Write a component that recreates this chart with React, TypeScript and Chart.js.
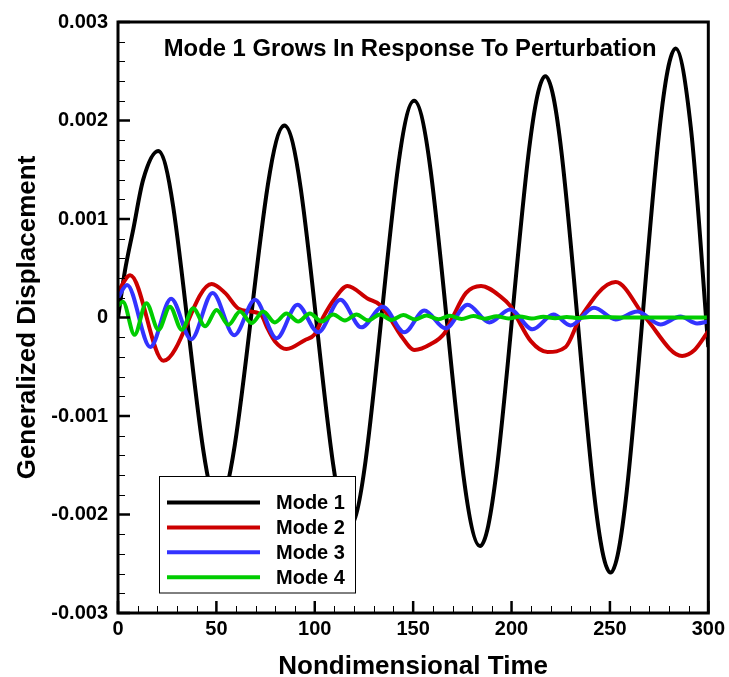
import React, { useEffect, useRef } from "react";
import { Chart, registerables } from "chart.js";

Chart.register(...registerables);

const chartTitle = "Mode 1 Grows In Response To Perturbation";
const xAxisTitle = "Nondimensional Time";
const yAxisTitle = "Generalized Displacement";
const seriesLabels = ["Mode 1", "Mode 2", "Mode 3", "Mode 4"];
const seriesColors = ["#000000", "#cc0000", "#3333ff", "#00cc00"];

const xTickValues = [0, 50, 100, 150, 200, 250, 300];
const xTickLabels = ["0", "50", "100", "150", "200", "250", "300"];
const yTickValues = [-0.003, -0.002, -0.001, 0, 0.001, 0.002, 0.003];
const yTickLabels = ["-0.003", "-0.002", "-0.001", "0", "0.001", "0.002", "0.003"];
const xMinorPerMajor = 5;
const yMinorPerMajor = 5;

// Mode 1 (black)
const mode1T = [0, 3.5, 7.8, 12.8, 20.4, 50.9, 84.6, 117.6, 150.5, 184, 217.2, 250.3, 283.4, 291.1, 300];
const mode1V = [0, 0.00047, 0.0009, 0.0014, 0.00169, -0.0019, 0.00195, -0.00213, 0.0022, -0.00232, 0.00245, -0.00259, 0.00273, 0.00193, -0.0003];

// Mode 2 (red)
const mode2T = [0, 6.2, 23.1, 47.6, 54.4, 61.2, 67.9, 73, 75.5, 79.7, 85.6, 94.9, 100, 104.2, 110.1, 116.6, 127, 133, 138, 144, 150.7, 159, 165.9, 170, 176.9, 184.5, 194.6, 199.7, 202.7, 209.8, 218.3, 227.5, 235, 252.9, 268, 286.7, 293, 300];
const mode2V = [0.00026, 0.00043, -0.00044, 0.00034, 0.00025, 0.00009, 0.00006, 0.00002, -0.00009, -0.00024, -0.00032, -0.00023, -0.00017, 0, 0.00019, 0.00032, 0.00019, 0.00013, 0, -0.00019, -0.00033, -0.00027, -0.00016, 0, 0.00025, 0.00032, 0.00021, 0.00011, 0, -0.00024, -0.00035, -0.0003, 0, 0.00036, 0, -0.00039, -0.00033, -0.00014];

// Mode 3 (blue)
const mode3T = [0, 4.6, 16.4, 27, 37.2, 48.1, 59.1, 69.6, 80.6, 91.2, 101.7, 113, 123.7, 134.6, 145.5, 155.7, 166.4, 177.7, 188.7, 199.3, 210.7, 221.3, 230, 241.9, 252.9, 263.9, 275.7, 285.8, 294.3, 300];
const mode3V = [0.0002, 0.00033, -0.0003, 0.00019, -0.00022, 0.00025, -0.00018, 0.00018, -0.00021, 0.00013, -0.00015, 0.00018, -0.0001, 0.00011, -0.00015, 0.00007, -0.00011, 0.00013, -0.00005, 0.00008, -0.00012, 0.00003, -0.00008, 0.0001, -0.00002, 0.00006, -0.00007, 0.00001, -0.00006, -0.00004];

// Mode 4 (green)
const mode4T = [0, 2.5, 8.4, 14.4, 20.6, 26.4, 32.4, 38.2, 44.3, 50.1, 56.1, 62, 67.9, 73.8, 79.7, 85.6, 91.6, 97.5, 103.5, 109.4, 115.3, 121.2, 127.2, 133.1, 139, 145, 150.9, 156.8, 162.8, 168.7, 174.6, 180.6, 186.5, 192.5, 198.4, 204.3, 210.3, 216.2, 222.1, 228.1, 234, 240, 260, 280, 300];
const mode4V = [0.00012, 0.00016, -0.000175, 0.000145, -0.000125, 0.00011, -0.000125, 0.000094, -0.00009, 0.000077, -0.000074, 0.00006, -0.000057, 0.00006, -0.00005, 0.00004, -0.00004, 0.00004, -0.00004, 0.00003, -0.00003, 0.00003, -0.00003, 0.00003, -0.000025, 0.000025, -0.00002, 0.00002, -0.000018, 0.000018, -0.000015, 0.000015, -0.000012, 0.000012, -0.00001, 0.00001, -0.00001, 0.000008, -0.000008, 0.000006, -0.000006, 0.000004, 0, 0, 0];

const FAMILY = "'Liberation Sans', Arial, Helvetica, sans-serif";

const toXY = (t: number[], v: number[]) => t.map((x, i) => ({ x, y: v[i] }));

const framePlugin = {
  id: "frameTicks",
  afterDatasetsDraw(chart: any) {
    const { ctx, chartArea: ca, scales } = chart;
    const xs = scales.x;
    const ys = scales.y;
    ctx.save();
    ctx.strokeStyle = "#000";
    // minor ticks (inward)
    ctx.lineWidth = 1;
    for (let i = 0; i < xTickValues.length - 1; i++) {
      const a = xTickValues[i], b = xTickValues[i + 1];
      for (let k = 1; k < xMinorPerMajor; k++) {
        const px = Math.round(xs.getPixelForValue(a + ((b - a) * k) / xMinorPerMajor)) + 0.5;
        ctx.beginPath();
        ctx.moveTo(px, ca.bottom);
        ctx.lineTo(px, ca.bottom - 7);
        ctx.stroke();
      }
    }
    for (let i = 0; i < yTickValues.length - 1; i++) {
      const a = yTickValues[i], b = yTickValues[i + 1];
      for (let k = 1; k < yMinorPerMajor; k++) {
        const py = Math.round(ys.getPixelForValue(a + ((b - a) * k) / yMinorPerMajor)) + 0.5;
        ctx.beginPath();
        ctx.moveTo(ca.left, py);
        ctx.lineTo(ca.left + 7, py);
        ctx.stroke();
      }
    }
    // major ticks (inward)
    ctx.lineWidth = 2.5;
    xTickValues.forEach((v) => {
      const px = xs.getPixelForValue(v);
      ctx.beginPath();
      ctx.moveTo(px, ca.bottom);
      ctx.lineTo(px, ca.bottom - 12);
      ctx.stroke();
    });
    yTickValues.forEach((v) => {
      const py = ys.getPixelForValue(v);
      ctx.beginPath();
      ctx.moveTo(ca.left, py);
      ctx.lineTo(ca.left + 12, py);
      ctx.stroke();
    });
    // frame
    ctx.lineWidth = 3;
    ctx.strokeRect(ca.left, ca.top, ca.right - ca.left, ca.bottom - ca.top);

    // legend
    const lx = ca.left + 41.5, ly = ca.top + 454.5, lw = 196, lh = 116.5;
    ctx.fillStyle = "#fff";
    ctx.fillRect(lx, ly, lw, lh);
    ctx.lineWidth = 1;
    ctx.strokeStyle = "#000";
    ctx.strokeRect(lx, ly, lw, lh);
    ctx.font = `bold 20px ${FAMILY}`;
    ctx.textAlign = "left";
    ctx.textBaseline = "middle";
    chart.data.datasets.forEach((ds: any, i: number) => {
      const y = ly + 26 + i * 24.9;
      ctx.strokeStyle = ds.borderColor;
      ctx.lineWidth = 4;
      ctx.beginPath();
      ctx.moveTo(lx + 7.5, y);
      ctx.lineTo(lx + 100.5, y);
      ctx.stroke();
      ctx.fillStyle = "#000";
      ctx.fillText(ds.label, lx + 116.5, y + 1);
    });

    // title inside plot
    ctx.font = `bold 23.8px ${FAMILY}`;
    ctx.textAlign = "center";
    ctx.textBaseline = "middle";
    ctx.fillStyle = "#000";
    ctx.fillText(chartTitle, (ca.left + ca.right) / 2 - 3, ca.top + 27);
    ctx.restore();
  },
};

export default function App() {
  const ref = useRef<HTMLCanvasElement>(null);
  useEffect(() => {
    document.body.style.margin = "0";
    const canvas = ref.current;
    if (!canvas) return;
    const series = [
      toXY(mode1T, mode1V),
      toXY(mode2T, mode2V),
      toXY(mode3T, mode3V),
      toXY(mode4T, mode4V),
    ];
    const chart = new Chart(canvas, {
      type: "line",
      data: {
        datasets: series.map((d, i) => ({
          label: seriesLabels[i],
          data: d,
          borderColor: seriesColors[i],
          backgroundColor: seriesColors[i],
          borderWidth: 4,
          pointRadius: 0,
          pointHoverRadius: 0,
          fill: false,
          cubicInterpolationMode: "monotone" as const,
          order: 3 - i,
        })),
      },
      options: {
        responsive: false,
        animation: false,
        events: [],
        layout: { padding: { left: 0, right: 19, top: 19, bottom: 0 } },
        plugins: {
          legend: { display: false },
          title: { display: false },
          tooltip: { enabled: false },
        },
        scales: {
          x: {
            type: "linear",
            min: 0,
            max: 300,
            afterBuildTicks: (s: any) => {
              s.ticks = xTickValues.map((v) => ({ value: v }));
            },
            afterFit: (s: any) => {
              s.height = 64;
            },
            grid: { display: false, drawTicks: false },
            border: { display: false },
            ticks: {
              autoSkip: false,
              maxRotation: 0,
              padding: 4,
              color: "#000",
              font: { family: FAMILY, size: 20, weight: "bold" },
              callback: (_v: any, i: number) => xTickLabels[i],
            },
            title: {
              display: true,
              text: xAxisTitle,
              color: "#000",
              padding: { top: 0, bottom: 0 },
              font: { family: FAMILY, size: 26, weight: "bold", lineHeight: 0.8 },
            },
          },
          y: {
            type: "linear",
            min: -0.003,
            max: 0.003,
            afterBuildTicks: (s: any) => {
              s.ticks = yTickValues.map((v) => ({ value: v }));
            },
            afterFit: (s: any) => {
              s.width = 118;
            },
            grid: { display: false, drawTicks: false },
            border: { display: false },
            ticks: {
              autoSkip: false,
              padding: 10,
              color: "#000",
              font: { family: FAMILY, size: 20, weight: "bold" },
              callback: (_v: any, i: number) => yTickLabels[i],
            },
            title: {
              display: true,
              text: yAxisTitle,
              color: "#000",
              padding: { top: 12, bottom: 0 },
              font: { family: FAMILY, size: 26, weight: "bold" },
            },
          },
        },
      },
      plugins: [framePlugin],
    } as any);
    return () => chart.destroy();
  }, []);
  return (
    <div style={{ width: 729, height: 677 }}>
      <canvas ref={ref} width={729} height={677} style={{ display: "block", width: 729, height: 677 }} />
    </div>
  );
}
